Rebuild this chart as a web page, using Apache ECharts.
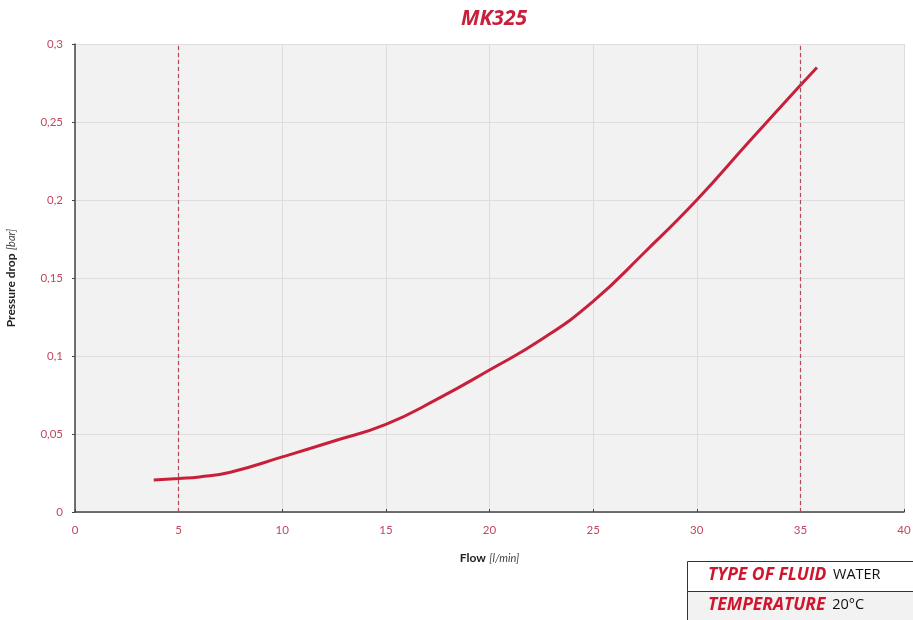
<!DOCTYPE html>
<html>
<head>
<meta charset="utf-8">
<script src="https://cdn.jsdelivr.net/npm/echarts@6/dist/echarts.min.js"></script>
<style>html,body{margin:0;padding:0;background:#fff;}#c{width:913px;height:620px;}</style>
</head>
<body>
<div id="c"></div>
<script>
var flow = [3.8, 5, 6, 7.5, 10, 12.5, 15, 17.5, 20, 22.5, 25, 27.5, 30, 32.5, 35, 35.8];
var pressure = [0.0205, 0.0215, 0.0225, 0.0255, 0.0353, 0.0455, 0.0562, 0.0725, 0.091, 0.1105, 0.135, 0.1667, 0.2, 0.237, 0.2735, 0.285];
var limits = [5, 35];
var tableRows = [["TYPE OF FLUID", "WATER"], ["TEMPERATURE", "20\u00b0C"]];

var chart = echarts.init(document.getElementById('c'));
var red = '#c8203a';
var labelRed = '#c2475e';
var graphics = [];
tableRows.forEach(function (r, i) {
  graphics.push({
    type: 'rect', left: 687, top: 561 + i * 30,
    shape: { width: 230, height: 30 },
    style: { fill: i === 0 ? '#ffffff' : '#f2f2f2', stroke: '#333', lineWidth: 1 }
  });
  graphics.push({
    type: 'text', left: 708, top: 566 + i * 30,
    style: {
      text: '{a|' + r[0] + '}  {b|' + r[1] + '}',
      rich: {
        a: { fill: '#d0152f', fontFamily: 'Open Sans', fontWeight: 'bold', fontStyle: 'italic', fontSize: 17.5 },
        b: { fill: '#111', fontFamily: 'Open Sans', fontSize: 14.5 }
      }
    }
  });
});

chart.setOption({
  animation: false,
  title: {
    text: 'MK325', left: 489, top: 4, textAlign: 'center',
    textStyle: { color: red, fontFamily: 'Open Sans', fontWeight: 'bold', fontStyle: 'italic', fontSize: 21 }
  },
  grid: { left: 75, right: 9, top: 44, bottom: 108, show: true, backgroundColor: '#f2f2f2', borderWidth: 0,
    containLabel: false, outerBoundsMode: 'none' },
  xAxis: {
    type: 'value', min: 0, max: 40, interval: 5,
    name: '{a|Flow} {b|[l/min]}', nameLocation: 'middle', nameGap: 40,
    nameTextStyle: { rich: {
      a: { fontFamily: 'Lato', fontWeight: 'bold', fontSize: 12, color: '#222' },
      b: { fontFamily: 'Lato', fontStyle: 'italic', fontSize: 11, color: '#444' } } },
    axisLine: { lineStyle: { color: '#444', width: 1.5 } },
    axisTick: { show: true, inside: true, length: 3, lineStyle: { color: '#444' } },
    axisLabel: { color: labelRed, fontFamily: 'Lato', fontSize: 11.5, margin: 12 },
    splitLine: { show: true, lineStyle: { color: '#dddddd', width: 1 } }
  },
  yAxis: {
    type: 'value', min: 0, max: 0.3, interval: 0.05,
    name: '{a|Pressure drop} {b|[bar]}', nameLocation: 'middle', nameGap: 58, nameRotate: 90,
    nameTextStyle: { rich: {
      a: { fontFamily: 'Lato', fontWeight: 'bold', fontSize: 12, color: '#222' },
      b: { fontFamily: 'Lato', fontStyle: 'italic', fontSize: 11, color: '#444' } } },
    axisLine: { show: true, lineStyle: { color: '#444', width: 1.5 } },
    axisTick: { show: true, length: 3, lineStyle: { color: '#444' } },
    axisLabel: { color: labelRed, fontFamily: 'Lato', fontSize: 11.5, margin: 12,
      formatter: function (v) { return String(+v.toFixed(2)).replace('.', ','); } },
    splitLine: { show: true, lineStyle: { color: '#dddddd', width: 1 } }
  },
  series: [{
    type: 'line', smooth: true, showSymbol: false,
    data: flow.map(function (x, i) { return [x, pressure[i]]; }),
    lineStyle: { color: red, width: 3 },
    markLine: {
      silent: true, symbol: 'none', label: { show: false },
      lineStyle: { color: '#b5485c', type: [4, 3], width: 1.2 },
      data: limits.map(function (v) { return { xAxis: v }; })
    }
  }],
  graphic: graphics
});
</script>
</body>
</html>
